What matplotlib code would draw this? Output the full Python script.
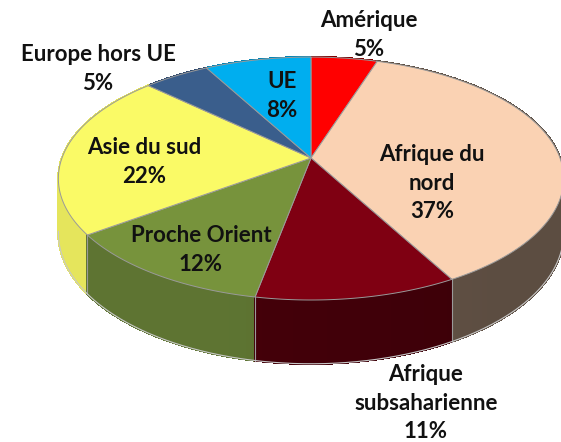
import numpy as np
import matplotlib
matplotlib.use("Agg")
import matplotlib.pyplot as plt
from matplotlib.patches import Polygon

# ---- data ----
categories = ["Amérique", "Afrique du nord", "Afrique subsaharienne", "Proche Orient",
              "Asie du sud", "Europe hors UE", "UE"]
values = [5, 37, 11, 12, 22, 5, 8]
label_texts = ["Amérique\n5%", "Afrique du\nnord\n37%", "Afrique\nsubsaharienne\n11%",
               "Proche Orient\n12%", "Asie du sud\n22%", "Europe hors UE\n5%", "UE\n8%"]

# ---- styles ----
top_colors = ["#FF0000", "#FAD2B3", "#7F0012", "#77933C", "#FAFA66", "#3A5E8C", "#00AEEF"]
side_colors = ["#8A0000", "#665548", "#420009", "#5A7030", "#DCDC58", "#2A4468", "#0080B0"]
label_pos = [(369, 35), (432, 183), (426, 403), (201, 250), (144, 162), (98, 69), (282, 96)]

W, H = 561, 442
cx, cy = 311.0, 158.0
a, b, k = 249.0, 118.0, 0.169
depth = 53.0

def proj(theta_deg):
    t = np.radians(theta_deg)
    x = np.sin(t)
    y = -np.cos(t)
    w = 1.0 / (1.0 - k * y)
    return cx + a * x * w, cy + b * y * w, w, y

fig = plt.figure(figsize=(W / 100, H / 100), dpi=100)
ax = fig.add_axes([0, 0, 1, 1])
ax.set_xlim(0, W)
ax.set_ylim(H, 0)
ax.axis("off")

total = float(sum(values))
bounds = np.concatenate([[0], np.cumsum(values)]) / total * 360.0

def shade(color, theta):
    rgb = np.array(matplotlib.colors.to_rgb(color))
    f = 1.0 + (theta - 180.0) * 0.0025
    f = np.clip(f, 0.9, 1.04)
    return tuple(np.clip(rgb * f, 0, 1))

# ---- side walls (painter's algorithm) ----
quads = []
step = 0.5
for i in range(len(values)):
    ths = np.arange(bounds[i], bounds[i + 1], step)
    ths = np.append(ths, bounds[i + 1])
    for t0, t1 in zip(ths[:-1], ths[1:]):
        x0, y0, w0, d0 = proj(t0)
        x1, y1, w1, d1 = proj(t1)
        poly = [(x0, y0), (x1, y1), (x1, y1 + depth * w1), (x0, y0 + depth * w0)]
        quads.append(((d0 + d1) / 2, poly, shade(side_colors[i], (t0 + t1) / 2)))
quads.sort(key=lambda q: q[0])
for _, poly, col in quads:
    ax.add_patch(Polygon(poly, closed=True, facecolor=col, edgecolor=col,
                         linewidth=1.0, antialiased=False))

# wall separators at visible slice boundaries
for th in bounds:
    x0, y0, w0, d0 = proj(th)
    if d0 > 0.17:
        ax.plot([x0, x0], [y0, y0 + depth * w0], color="#9a9a9a", lw=0.8)

# bottom outline of visible walls
ths = np.linspace(99, 261, 400)
pts = [proj(t) for t in ths]
ax.plot([p[0] for p in pts], [p[1] + depth * p[2] for p in pts], color="#c8c8c8", lw=0.8)

# ---- top faces ----
for i in range(len(values)):
    ths = np.linspace(bounds[i], bounds[i + 1], 200)
    pts = [(cx, cy)] + [proj(t)[:2] for t in ths]
    ax.add_patch(Polygon(pts, closed=True, facecolor=top_colors[i],
                         edgecolor="#9a9a9a", linewidth=0.7, joinstyle="round"))

# ---- labels ----
for txt, (lx, ly) in zip(label_texts, label_pos):
    ax.text(lx, ly, txt, ha="center", va="center", fontsize=16, fontweight="bold",
            family=["Lato", "DejaVu Sans"], color="#111111", linespacing=1.42)

fig.savefig("out.png", dpi=100)
